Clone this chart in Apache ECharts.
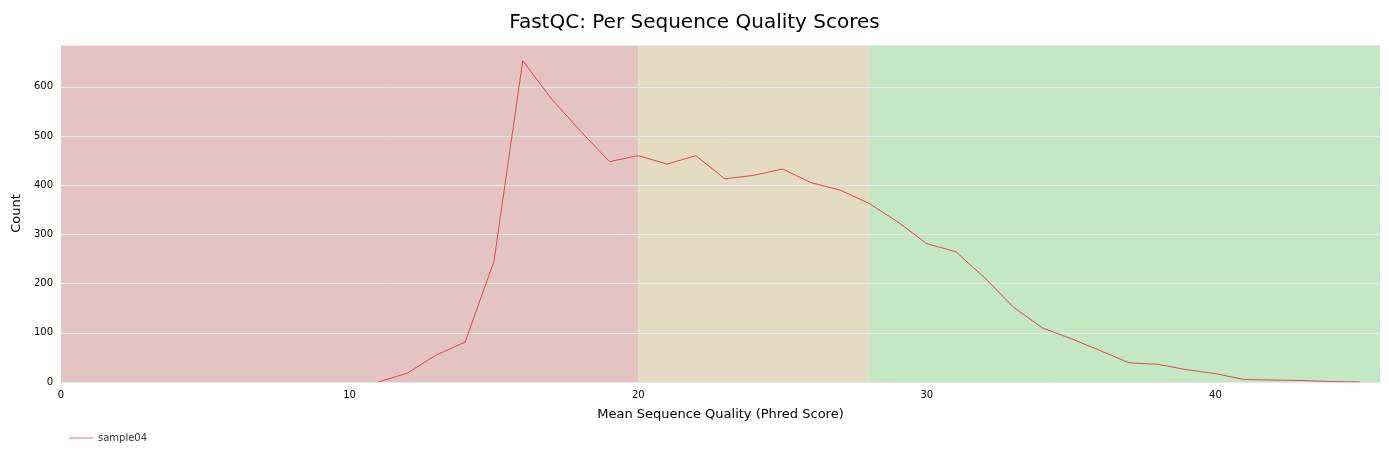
<!DOCTYPE html>
<html>
<head>
<meta charset="UTF-8">
<title>FastQC</title>
<script src="https://cdn.jsdelivr.net/npm/echarts@6/dist/echarts.min.js"></script>
<style>html,body{margin:0;background:#fff}#chart{width:1389px;height:460px}</style>
</head>
<body>
<div id="chart"></div>
<script>
var quality = [11, 12, 13, 14, 15, 16, 17, 18, 19, 20, 21, 22, 23, 24, 25, 26, 27, 28, 29, 30, 31, 32, 33, 34, 35, 36, 37, 38, 39, 40, 41, 42, 43, 44, 45];
var counts = [0, 18, 55, 81, 245, 653, 575, 510, 448, 460, 443, 460, 413, 420, 433, 405, 390, 363, 325, 281, 265, 212, 152, 110, 88, 64, 39, 36, 25, 17, 5, 4, 3, 1, 0];
var bands = [[0, 20, '#e4c3c3'], [20, 28, '#e5dbc3'], [28, 45.7, '#c4e7c4']];

var chart = echarts.init(document.getElementById('chart'));
chart.setOption({
  animation: false,
  title: {
    text: 'FastQC: Per Sequence Quality Scores',
    left: 'center', top: 8,
    textStyle: { fontSize: 20, fontWeight: 'normal', color: '#000', fontFamily: 'DejaVu Sans' }
  },
  grid: { left: 61, right: 9, top: 45, bottom: 78 },
  legend: {
    left: 64, bottom: 12, icon: 'path://M0,0H30V1H0Z', itemWidth: 24, itemHeight: 2,
    textStyle: { fontSize: 10, fontFamily: 'DejaVu Sans', color: '#333' }
  },
  xAxis: {
    type: 'value', min: 0, max: 45.7, interval: 10,
    name: 'Mean Sequence Quality (Phred Score)', nameLocation: 'middle', nameGap: 26,
    nameTextStyle: { fontSize: 13, color: '#000', fontFamily: 'DejaVu Sans' },
    axisLabel: { fontSize: 10, color: '#000', showMaxLabel: false, fontFamily: 'DejaVu Sans' },
    axisLine: { show: false }, axisTick: { show: false }, splitLine: { show: false }
  },
  yAxis: {
    type: 'value', min: 0, max: 685, interval: 100,
    name: 'Count', nameLocation: 'middle', nameGap: 36,
    nameTextStyle: { fontSize: 13, color: '#000', fontFamily: 'DejaVu Sans' },
    axisLabel: { fontSize: 10, color: '#000', showMaxLabel: false, fontFamily: 'DejaVu Sans' },
    axisLine: { show: false }, axisTick: { show: false },
    splitLine: { show: true, lineStyle: { color: '#e8e8e8', width: 1 } }
  },
  series: [{
    name: 'sample04', type: 'line', data: quality.map(function (q, i) { return [q, counts[i]]; }),
    showSymbol: false, lineStyle: { color: '#dc4a4a', width: 1 }, itemStyle: { color: '#dc4a4a' },
    markArea: {
      silent: true, z: -1,
      data: bands.map(function (b) {
        return [{ xAxis: b[0], itemStyle: { color: b[2] } }, { xAxis: b[1] }];
      })
    }
  }]
});
</script>
</body>
</html>
